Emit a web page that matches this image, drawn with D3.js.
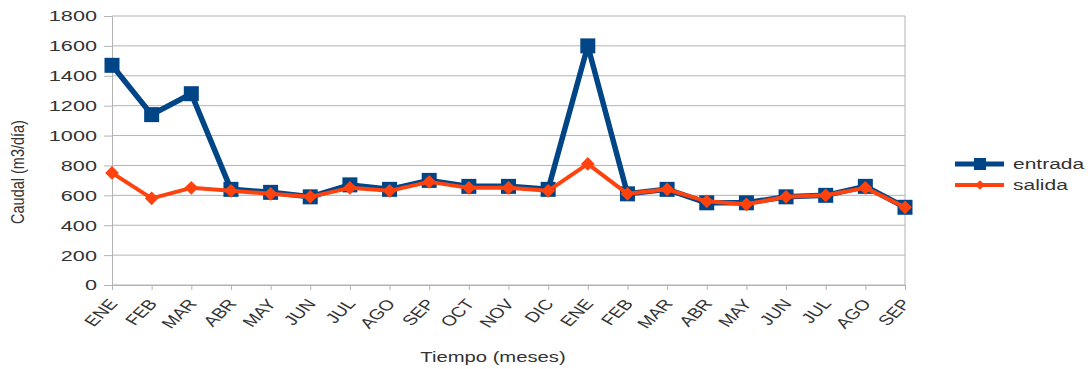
<!DOCTYPE html>
<html>
<head>
<meta charset="utf-8">
<script src="https://cdn.jsdelivr.net/npm/d3@7"></script>
<style>
  body { margin: 0; background: #fff; }
  svg { font-family: "Liberation Sans", Arial, sans-serif; }
</style>
</head>
<body>
<div id="chart"></div>
<script>
// data
var months = ["ENE", "FEB", "MAR", "ABR", "MAY", "JUN", "JUL", "AGO", "SEP", "OCT", "NOV", "DIC",
              "ENE", "FEB", "MAR", "ABR", "MAY", "JUN", "JUL", "AGO", "SEP"];
var entrada = [1470, 1140, 1280, 640, 620, 590, 670, 640, 700, 660, 660, 640,
               1600, 610, 640, 550, 550, 590, 600, 660, 520];
var salida = [750, 580, 650, 630, 610, 590, 650, 630, 690, 650, 650, 630,
              810, 610, 640, 560, 540, 590, 600, 650, 520];
var yTicks = [0, 200, 400, 600, 800, 1000, 1200, 1400, 1600, 1800];

var width = 1091, height = 369;
var margin = {top: 16, right: 186, bottom: 84, left: 112};
var plotW = width - margin.left - margin.right;
var plotH = height - margin.top - margin.bottom;

// the picture's text is a little stretched sideways
var stretch = 1.35;

var svg = d3.select("#chart").append("svg")
    .attr("width", width)
    .attr("height", height);

var g = svg.append("g")
    .attr("transform", `translate(${margin.left},${margin.top})`);

// scales
var x = d3.scalePoint()
    .domain(d3.range(months.length))
    .range([0, plotW]);

var y = d3.scaleLinear()
    .domain([0, 1800])
    .range([plotH, 0]);

// gridlines
g.selectAll(".grid")
    .data(yTicks)
    .enter()
    .append("line")
    .attr("x1", 0)
    .attr("x2", plotW)
    .attr("y1", d => y(d))
    .attr("y2", d => y(d))
    .attr("stroke", "#b3b3b3")
    .attr("stroke-width", 1);

// right border
g.append("line")
    .attr("x1", plotW).attr("x2", plotW)
    .attr("y1", 0).attr("y2", plotH)
    .attr("stroke", "#b3b3b3");

// y axis
var yAxis = d3.axisLeft(y).tickValues(yTicks).tickSize(8).tickFormat(d3.format("d"));
var yg = g.append("g").call(yAxis);
yg.select(".domain").attr("stroke", "#b3b3b3");
yg.selectAll(".tick line").attr("stroke", "#b3b3b3");
yg.selectAll("text")
    .attr("x", 0)
    .attr("transform", `translate(-15,0) scale(1.4,1)`)
    .attr("fill", "#333")
    .style("font-size", "15.5px");

// x axis
var xAxis = d3.axisBottom(x).tickSize(5).tickFormat(i => months[i]);
var xg = g.append("g")
    .attr("transform", `translate(0,${plotH})`)
    .call(xAxis);
xg.select(".domain").attr("stroke", "#b3b3b3");
xg.selectAll(".tick line").attr("stroke", "#b3b3b3");
xg.selectAll("text")
    .attr("x", 0)
    .attr("y", 0)
    .attr("dy", 0)
    .attr("fill", "#333")
    .style("font-size", "14.5px")
    .style("text-anchor", "end")
    .attr("transform", `translate(6,19) scale(${stretch},1) rotate(-52)`);

// lines
var line = function (vals) {
    return d3.line()
        .x((d, i) => x(i))
        .y(d => y(d))(vals);
};

g.append("path")
    .attr("d", line(entrada))
    .attr("fill", "none")
    .attr("stroke", "#004586")
    .attr("stroke-width", 5.5)
    .attr("stroke-linejoin", "round");

g.selectAll(".sq")
    .data(entrada)
    .enter()
    .append("rect")
    .attr("x", (d, i) => x(i) - 7.5)
    .attr("y", d => y(d) - 7.5)
    .attr("width", 15)
    .attr("height", 15)
    .attr("fill", "#004586");

g.append("path")
    .attr("d", line(salida))
    .attr("fill", "none")
    .attr("stroke", "#ff420e")
    .attr("stroke-width", 4)
    .attr("stroke-linejoin", "round");

var diamond = d3.symbol().type(d3.symbolDiamond2).size(120);
g.selectAll(".dm")
    .data(salida)
    .enter()
    .append("path")
    .attr("d", diamond)
    .attr("transform", (d, i) => `translate(${x(i)},${y(d)})`)
    .attr("fill", "#ff420e");

// axis titles
svg.append("text")
    .attr("transform", `translate(24,172) scale(1.3,1) rotate(-90)`)
    .attr("text-anchor", "middle")
    .attr("fill", "#333")
    .style("font-size", "14.5px")
    .text("Caudal (m3/día)");

svg.append("text")
    .attr("transform", `translate(493,362) scale(${stretch},1)`)
    .attr("text-anchor", "middle")
    .attr("fill", "#333")
    .style("font-size", "15px")
    .text("Tiempo (meses)");

// legend
var legend = svg.append("g").attr("transform", "translate(955,164)");
var series = [
    {name: "entrada", color: "#004586", w: 5, shape: "sq"},
    {name: "salida", color: "#ff420e", w: 4, shape: "dm"}
];
series.forEach(function (s, k) {
    var row = legend.append("g").attr("transform", `translate(0,${k * 21})`);
    row.append("line")
        .attr("x1", 0).attr("x2", 49)
        .attr("y1", 0).attr("y2", 0)
        .attr("stroke", s.color)
        .attr("stroke-width", s.w);
    if (s.shape === "sq") {
        row.append("rect")
            .attr("x", 19).attr("y", -6)
            .attr("width", 12).attr("height", 12)
            .attr("fill", s.color);
    } else {
        row.append("path")
            .attr("d", d3.symbol().type(d3.symbolDiamond2).size(60))
            .attr("transform", "translate(25,0)")
            .attr("fill", s.color);
    }
    row.append("text")
        .attr("transform", `translate(58,5) scale(1.4,1)`)
        .attr("fill", "#333")
        .style("font-size", "15px")
        .text(s.name);
});
</script>
</body>
</html>
